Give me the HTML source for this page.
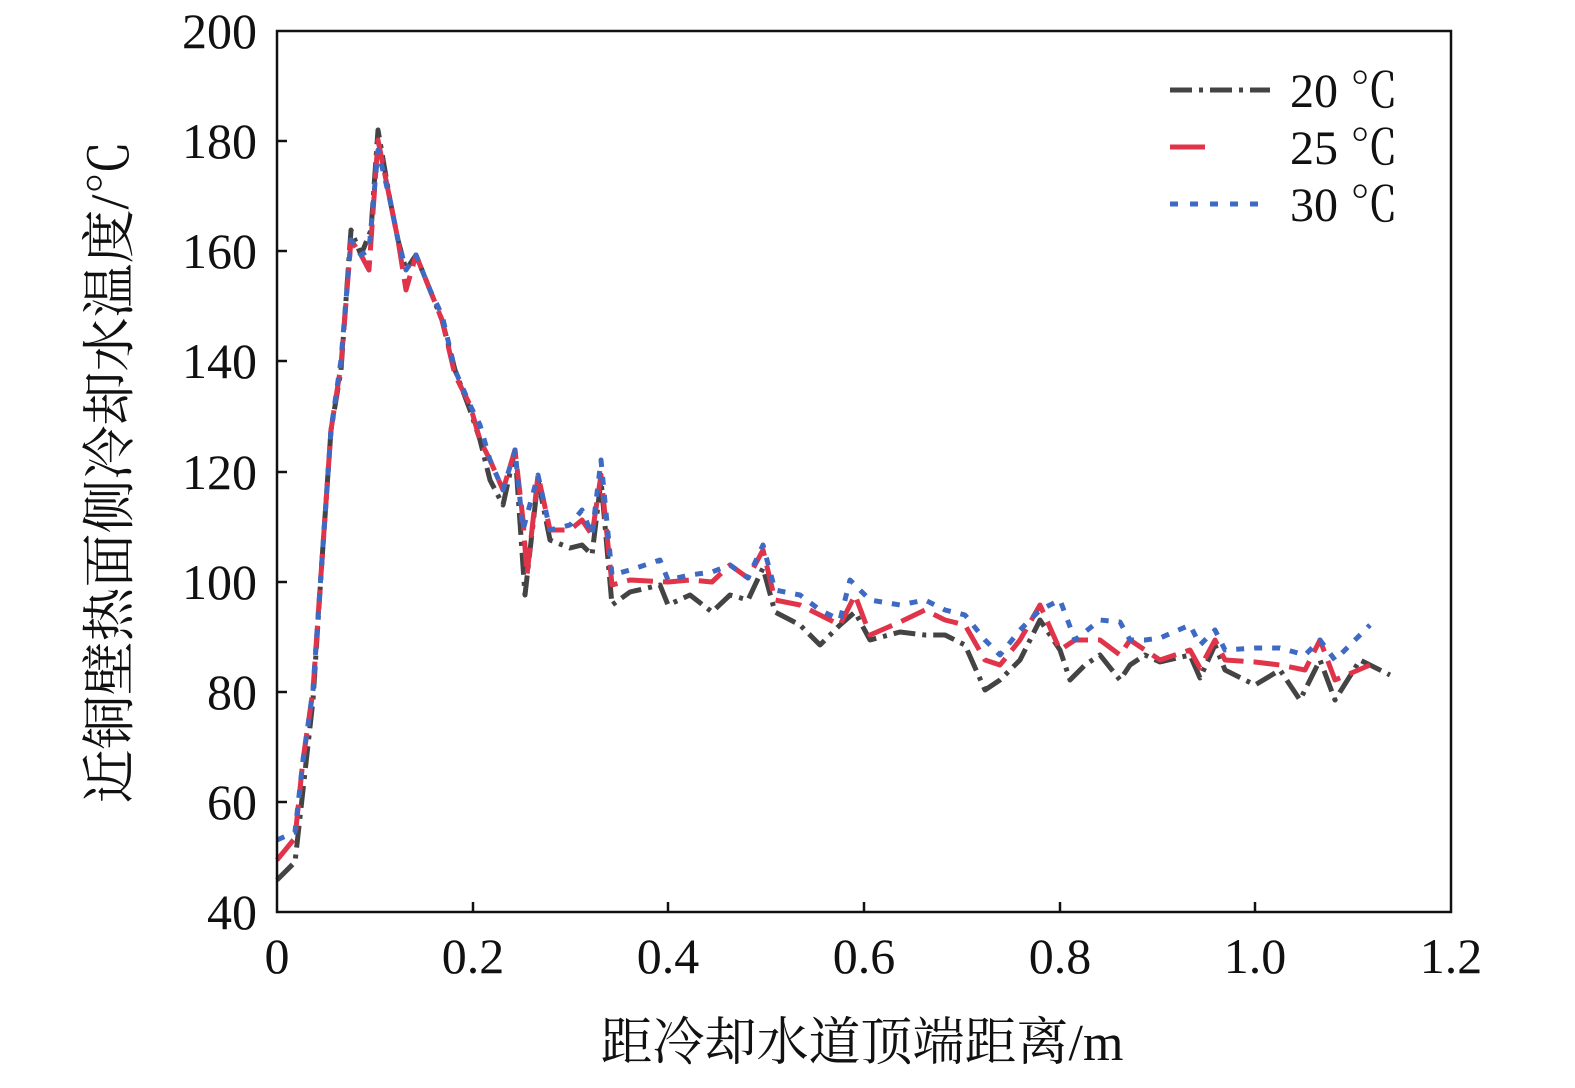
<!DOCTYPE html>
<html><head><meta charset="utf-8"><style>
html,body{margin:0;padding:0;background:#fff;}
svg text{font-family:"Liberation Serif","Noto Serif CJK SC",serif;}
</style></head><body>
<svg width="1575" height="1083" viewBox="0 0 1575 1083" xmlns="http://www.w3.org/2000/svg" style="font-family:'Liberation Serif','Noto Serif CJK SC',serif">
<rect width="1575" height="1083" fill="#fff"/>
<g fill="none" stroke-width="5" stroke-linejoin="round">
<polyline stroke="#444" stroke-dasharray="22,7,4,7" points="277,880 295,862 303,790 313,700 322,560 331,430 341,370 351,230 361,255 371,230 378,130 390,200 398,240 406,270 416,255 430,290 442,320 455,370 470,410 480,440 490,480 503,505 515,450 525,595 538,480 550,540 570,548 582,545 592,555 601,480 612,605 630,592 660,585 668,605 690,595 712,612 730,595 748,600 763,568 775,612 800,625 820,645 840,625 855,612 870,640 900,632 925,635 945,635 965,645 985,690 1000,680 1020,660 1040,620 1060,650 1070,680 1085,665 1100,655 1120,680 1130,665 1145,655 1160,662 1190,655 1200,678 1215,645 1225,670 1255,685 1280,670 1300,700 1320,660 1335,700 1360,660 1390,675"/>
<polyline stroke="#e0344a" stroke-dasharray="26,10" points="277,860 295,838 303,760 313,690 322,560 331,430 341,365 351,240 361,255 369,270 378,140 390,200 398,240 406,290 416,255 430,290 442,320 455,375 470,405 480,440 490,460 503,490 515,450 523,520 527,575 538,475 550,530 570,530 582,520 592,535 601,475 612,585 630,580 668,582 690,580 712,582 730,565 748,578 763,550 775,600 800,605 820,615 840,625 855,595 870,635 900,622 925,610 945,620 965,625 985,660 1000,665 1020,640 1040,605 1060,650 1075,640 1100,640 1120,655 1130,640 1145,650 1160,660 1190,650 1200,668 1215,640 1225,660 1255,662 1280,665 1305,670 1320,640 1335,680 1370,665"/>
<polyline stroke="#3e6ac4" stroke-dasharray="8,10" points="277,840 295,832 303,760 313,690 322,560 331,430 341,360 351,240 361,255 369,250 378,150 390,200 398,240 406,270 416,255 430,290 442,315 455,370 470,405 480,425 490,460 503,490 515,450 523,530 538,475 550,530 570,525 582,510 592,535 601,460 612,575 630,570 660,560 668,580 690,575 712,572 730,565 748,578 763,545 775,590 800,595 820,610 840,620 850,580 870,600 900,605 925,600 945,610 965,615 985,640 1000,655 1020,630 1040,610 1060,600 1075,640 1100,620 1120,622 1130,640 1145,640 1160,638 1190,625 1200,645 1215,630 1225,650 1255,648 1280,648 1305,655 1320,640 1335,660 1370,625"/>
</g>
<rect x="277" y="31" width="1174" height="881" fill="none" stroke="#111" stroke-width="2.5"/>
<g stroke="#111" stroke-width="2.5">
<line x1="277" y1="141" x2="287" y2="141"/><line x1="277" y1="251" x2="287" y2="251"/><line x1="277" y1="361" x2="287" y2="361"/><line x1="277" y1="472" x2="287" y2="472"/><line x1="277" y1="582" x2="287" y2="582"/><line x1="277" y1="692" x2="287" y2="692"/><line x1="277" y1="802" x2="287" y2="802"/>
<line x1="473" y1="912" x2="473" y2="902"/><line x1="668" y1="912" x2="668" y2="902"/><line x1="864" y1="912" x2="864" y2="902"/><line x1="1060" y1="912" x2="1060" y2="902"/><line x1="1255" y1="912" x2="1255" y2="902"/>
</g>
<g font-size="50" fill="#111" text-anchor="end">
<text x="257" y="48">200</text><text x="257" y="158">180</text><text x="257" y="268">160</text><text x="257" y="378">140</text><text x="257" y="489">120</text><text x="257" y="599">100</text><text x="257" y="709">80</text><text x="257" y="819">60</text><text x="257" y="929">40</text>
</g>
<g font-size="50" fill="#111" text-anchor="middle">
<text x="277" y="973">0</text><text x="473" y="973">0.2</text><text x="668" y="973">0.4</text><text x="864" y="973">0.6</text><text x="1060" y="973">0.8</text><text x="1255" y="973">1.0</text><text x="1451" y="973">1.2</text>
</g>
<text x="862" y="1060" font-size="52" text-anchor="middle" fill="#111">距冷却水道顶端距离/m</text>
<text transform="translate(128,472) rotate(-90)" font-size="54" text-anchor="middle" fill="#111">近铜壁热面侧冷却水温度/℃</text>
<g stroke-width="5">
<line x1="1170" y1="90" x2="1270" y2="90" stroke="#444" stroke-dasharray="22,7,4,7"/>
<line x1="1170" y1="147" x2="1205" y2="147" stroke="#e0344a"/>
<line x1="1170" y1="204" x2="1270" y2="204" stroke="#3e6ac4" stroke-dasharray="8,12"/>
</g>
<g font-size="48" fill="#111">
<text x="1290" y="107">20 ℃</text><text x="1290" y="164">25 ℃</text><text x="1290" y="221">30 ℃</text>
</g>
</svg>
</body></html>
